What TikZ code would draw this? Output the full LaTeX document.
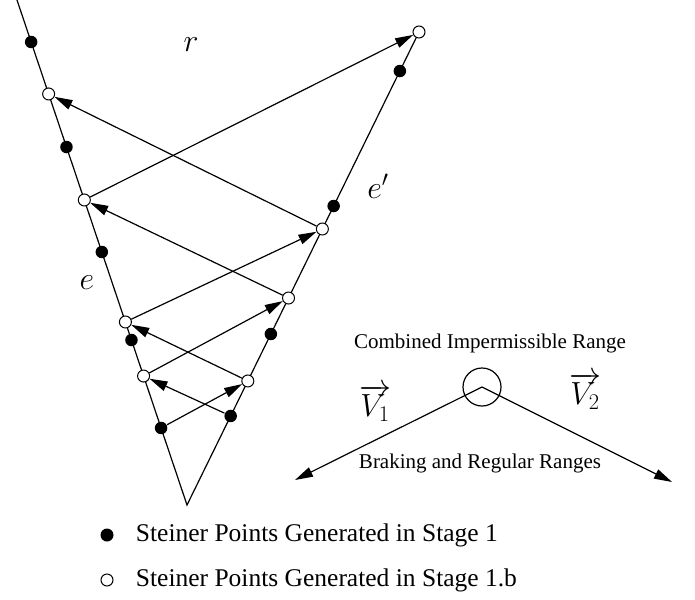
\RequirePackage{fix-cm}
\documentclass[tikz,border=0pt]{standalone}
\usepackage{fontspec}
\setmainfont{Liberation Serif}
\usetikzlibrary{arrows.meta,calc}
\begin{document}
\begin{tikzpicture}[x=1pt,y=-1pt,line width=1.2pt,
  opnode/.style={circle,draw,fill=white,inner sep=0pt,minimum size=12pt,line width=1pt},
  blnode/.style={circle,fill=black,inner sep=0pt,minimum size=12.5pt},
  arr/.style={-{Triangle[length=18pt,width=10pt]}},
  mlab/.style={font=\fontsize{32}{36}\selectfont},
  vlab/.style={font=\fontsize{32}{36}\selectfont},
  rtext/.style={font=\fontsize{21}{24}\selectfont},
  legtext/.style={font=\fontsize{25.5}{29}\selectfont,anchor=west}]
\useasboundingbox (0,0) rectangle (695,599);
% edges
\coordinate (top) at (17,0);
\coordinate (apex) at (187,505);
\coordinate (rtop) at (419,32);
\draw (top) -- (apex) -- (rtop);
% left edge points
\node[blnode] (b1) at ($(apex)!0.9168!(top)$) {};
\node[opnode] (o1) at ($(apex)!0.8139!(top)$) {};
\node[blnode] (b2) at ($(apex)!0.7089!(top)$) {};
\node[opnode] (o2) at ($(apex)!0.6040!(top)$) {};
\node[blnode] (b3) at ($(apex)!0.5010!(top)$) {};
\node[opnode] (o3) at ($(apex)!0.3624!(top)$) {};
\node[blnode] (b4) at ($(apex)!0.3267!(top)$) {};
\node[opnode] (o4) at ($(apex)!0.2554!(top)$) {};
\node[blnode] (b5) at ($(apex)!0.1525!(top)$) {};
% right edge points
\node[opnode] (p1) at (rtop) {};
\node[blnode] (q1) at ($(apex)!0.9175!(rtop)$) {};
\node[blnode] (q2) at ($(apex)!0.6321!(rtop)$) {};
\node[opnode] (p2) at ($(apex)!0.5835!(rtop)$) {};
\node[opnode] (p3) at ($(apex)!0.4376!(rtop)$) {};
\node[blnode] (q3) at ($(apex)!0.3615!(rtop)$) {};
\node[opnode] (p4) at ($(apex)!0.2622!(rtop)$) {};
\node[blnode] (q4) at ($(apex)!0.1882!(rtop)$) {};
% arrows
\draw[arr] (o2) -- (p1);
\draw[arr] (p2) -- (o1);
\draw[arr] (p3) -- (o2);
\draw[arr] (o3) -- (p2);
\draw[arr] (p4) -- (o3);
\draw[arr] (o4) -- (p3);
\draw[arr] (q4) -- (o4);
\draw[arr] (b5) -- (p4);
% labels
\node[mlab] (lr) at (191,45) {$r$};
\node[mlab] (le2) at (378,186) {$e'$};
\node[mlab] (le) at (87,283) {$e$};
% right diagram
\node[circle,draw,inner sep=0pt,minimum size=38pt] (cir) at (482,387) {};
\coordinate (v1end) at (295,480);
\coordinate (v2end) at (672,482);
\draw[arr] (cir.center) -- (v1end);
\draw[arr] (cir.center) -- (v2end);
\node[rtext] (comb) at (490,343) {Combined Impermissible Range};
\node[rtext] (brak) at (480,463) {Braking and Regular Ranges};
\node[vlab] (lv1) at (375,403) {$\overrightarrow{V_1}$};
\node[vlab] (lv2) at (585,391) {$\overrightarrow{V_2}$};
% legend
\node[circle,fill=black,inner sep=0pt,minimum size=13pt] (lb) at (107,535) {};
\node[legtext] (lbt) at (132,535) {Steiner Points Generated in Stage 1};
\node[circle,draw,line width=1pt,inner sep=0pt,minimum size=12pt] (lo) at (107,580) {};
\node[legtext] (lot) at (132,580) {Steiner Points Generated in Stage 1.b};
\end{tikzpicture}
\end{document}
